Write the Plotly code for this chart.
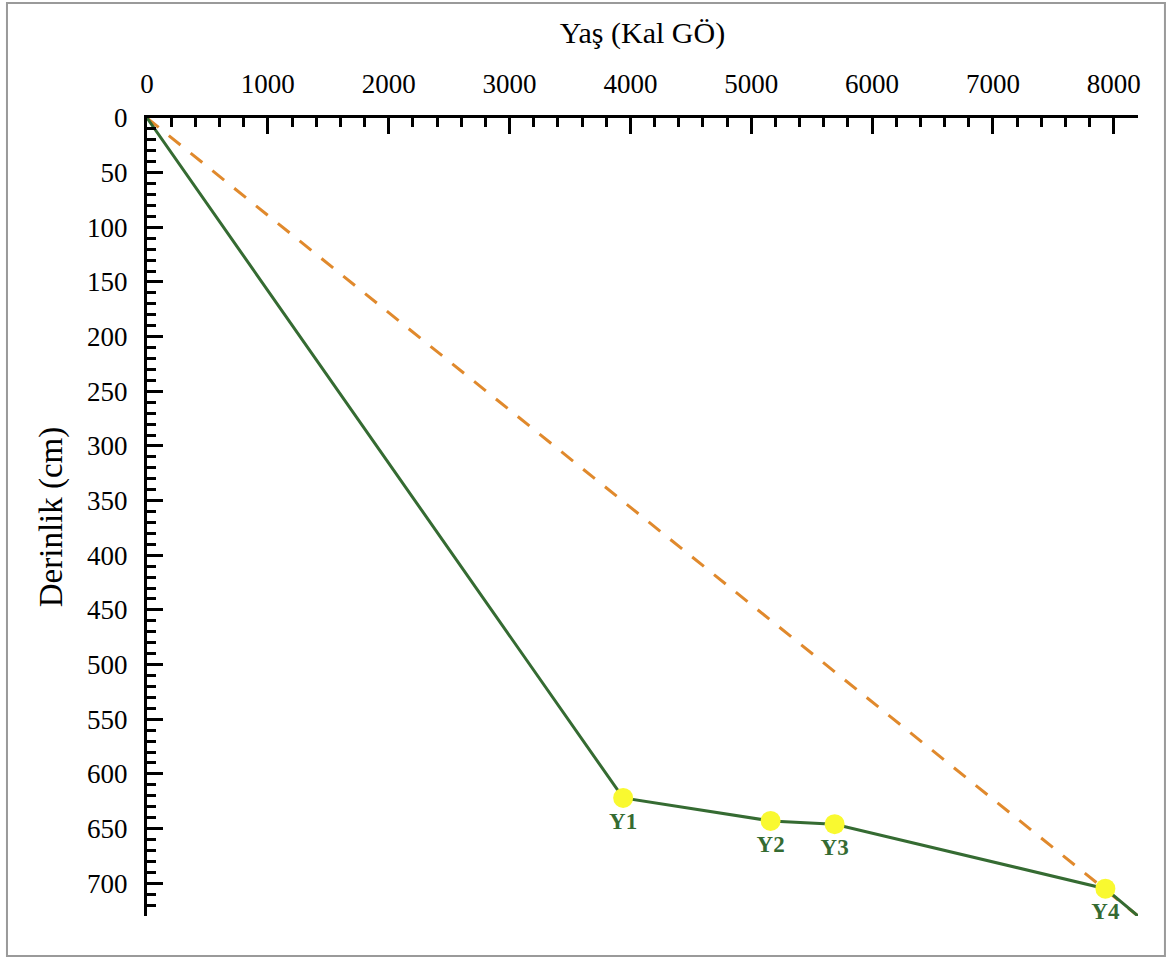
import plotly.graph_objects as go

# Age-depth model data
line_age = [0, 3940, 5160, 5690, 7930, 8200]
line_depth = [0, 622, 643, 646, 705, 730]

sample_names = ["Y1", "Y2", "Y3", "Y4"]
sample_age = [3940, 5160, 5690, 7930]
sample_depth = [622, 643, 646, 705]

linear_age = [0, 8200]
linear_depth = [0, 730]

x_ticks = [0, 1000, 2000, 3000, 4000, 5000, 6000, 7000, 8000]
y_ticks = [0, 50, 100, 150, 200, 250, 300, 350, 400, 450, 500, 550, 600, 650, 700]

GREEN = "#356b32"
ORANGE = "#e0892c"
FONT = "Liberation Serif"

fig = go.Figure()
fig.add_trace(go.Scatter(x=linear_age, y=linear_depth, mode="lines",
                         line=dict(color=ORANGE, width=3, dash="15px,13px"),
                         hoverinfo="skip", showlegend=False))
fig.add_trace(go.Scatter(x=line_age, y=line_depth, mode="lines",
                         line=dict(color=GREEN, width=3),
                         showlegend=False))
fig.add_trace(go.Scatter(x=sample_age, y=sample_depth, mode="markers+text",
                         marker=dict(color="#f9f930", size=20, line=dict(width=0)),
                         text=sample_names, textposition="bottom center",
                         textfont=dict(family=FONT, size=23, color=GREEN, weight="bold"),
                         showlegend=False, cliponaxis=False))

axis_common = dict(
    showgrid=False, zeroline=False, showline=True, linecolor="black", linewidth=3,
    ticks="inside", ticklen=16, tickwidth=3, tickcolor="black",
    tickfont=dict(family=FONT, size=27, color="black"),
    mirror=False,
)

fig.update_xaxes(
    **axis_common, side="top", range=[0, 8200], tickvals=x_ticks,
    ticktext=[str(v) for v in x_ticks],
    minor=dict(dtick=200, tick0=0, ticks="inside", ticklen=9, tickwidth=3, tickcolor="black"),
    title=dict(text="Yaş (Kal GÖ)", font=dict(family=FONT, size=30, color="black"), standoff=17),
    ticklabelstandoff=11,
)
fig.update_yaxes(
    **axis_common, range=[730, 0], tickvals=y_ticks,
    ticktext=[str(v) for v in y_ticks],
    minor=dict(dtick=10, tick0=0, ticks="inside", ticklen=9, tickwidth=3, tickcolor="black"),
    title=dict(text="Derinlik (cm)", font=dict(family=FONT, size=33, color="black"), standoff=15),
    ticklabelstandoff=11,
)

fig.update_layout(
    width=1169, height=958,
    margin=dict(l=147, r=31, t=118, b=42),
    paper_bgcolor="white", plot_bgcolor="white",
    shapes=[dict(type="rect", xref="paper", yref="paper",
                 x0=-0.1413, x1=1.0272, y0=-0.0501, y1=1.1441,
                 line=dict(color="#9a9a9a", width=2), fillcolor="rgba(0,0,0,0)",
                 layer="below")],
)

fig.write_html("out.html")
